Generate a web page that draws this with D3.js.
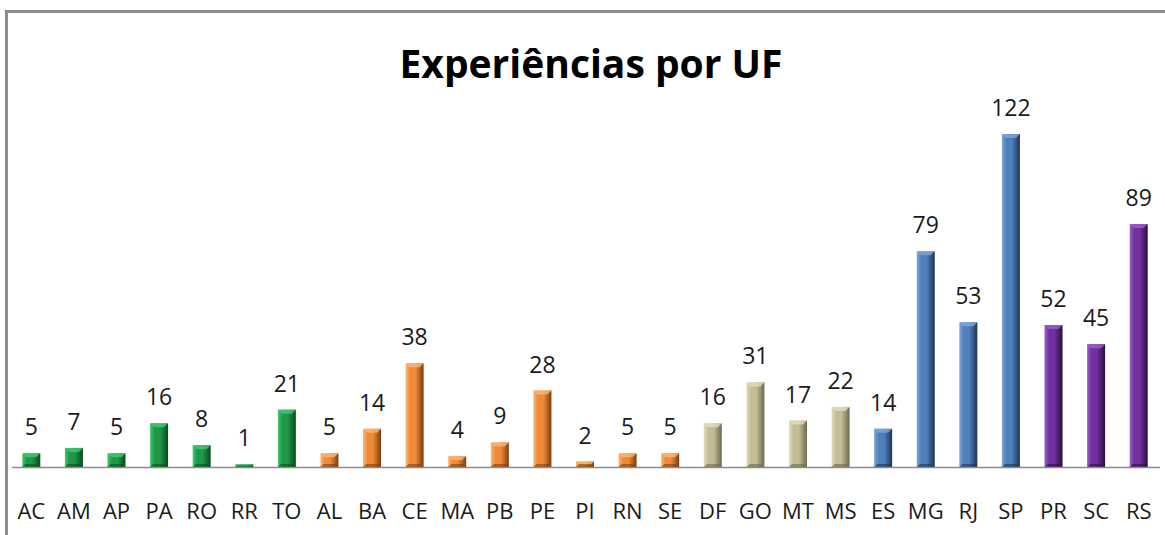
<!DOCTYPE html>
<html>
<head>
<meta charset="utf-8">
<script src="https://cdn.jsdelivr.net/npm/d3@7"></script>
<style>
  html, body { margin: 0; padding: 0; background: #fff; }
  svg { display: block; font-family: "Open Sans", sans-serif; }
</style>
</head>
<body>
<div id="chart"></div>
<script>
// data
var ufs     = ["AC","AM","AP","PA","RO","RR","TO","AL","BA","CE","MA","PB","PE","PI","RN","SE","DF","GO","MT","MS","ES","MG","RJ","SP","PR","SC","RS"];
var values  = [5,7,5,16,8,1,21,5,14,38,4,9,28,2,5,5,16,31,17,22,14,79,53,122,52,45,89];
var regions = ["N","N","N","N","N","N","N","NE","NE","NE","NE","NE","NE","NE","NE","NE","CO","CO","CO","CO","SE","SE","SE","SE","S","S","S"];

var palette = {
  N:  {light: "#45c872", mid: "#1e9846", dark: "#0a4a1e"},
  NE: {light: "#fbb775", mid: "#ef8a38", dark: "#7c3e0e"},
  CO: {light: "#e2ddbf", mid: "#c3bc96", dark: "#6c684d"},
  SE: {light: "#7ea6d6", mid: "#4f80bc", dark: "#1d3452"},
  S:  {light: "#9a60c8", mid: "#7131a0", dark: "#2a0e3e"}
};

var W = 1165, H = 535;
var svg = d3.select("#chart").append("svg")
    .attr("width", W)
    .attr("height", H);

// gradients per region
var defs = svg.append("defs");
Object.keys(palette).forEach(function(k) {
  var c = palette[k];
  var g = defs.append("linearGradient").attr("id", "g" + k)
      .attr("x1", "0").attr("x2", "1").attr("y1", "0").attr("y2", "0");
  g.append("stop").attr("offset", "0%").attr("stop-color", c.light);
  g.append("stop").attr("offset", "25%").attr("stop-color", c.mid);
  g.append("stop").attr("offset", "55%").attr("stop-color", c.mid);
  g.append("stop").attr("offset", "100%").attr("stop-color", c.dark);
});

// outer frame (only top and left visible)
svg.append("path")
    .attr("d", "M6.5," + H + " V11.5 H" + W)
    .attr("fill", "none")
    .attr("stroke", "#8c8c8c")
    .attr("stroke-width", 3);

svg.append("text")
    .attr("x", 591)
    .attr("y", 78)
    .attr("text-anchor", "middle")
    .style("font-size", "39px")
    .style("font-weight", "bold")
    .text("Experiências por UF");

var x = d3.scaleBand().domain(ufs).range([10, 1160]);
var y = d3.scaleLinear().domain([0, 122]).range([467, 134]);
var bw = 18;

var rows = ufs.map(function(u, i) { return {uf: u, v: values[i], r: regions[i]}; });

var node = svg.selectAll("g.bar")
    .data(rows)
  .enter().append("g")
    .attr("class", "bar")
    .attr("transform", function(d) { return "translate(" + (x(d.uf) + x.bandwidth() / 2 - bw / 2) + ",0)"; });

node.append("rect")
    .attr("y", function(d) { return y(d.v); })
    .attr("width", bw)
    .attr("height", function(d) { return y(0) - y(d.v); })
    .attr("fill", function(d) { return "url(#g" + d.r + ")"; });

// bevel on top and bottom
node.append("path")
    .attr("d", function(d) {
      var t = y(d.v), h = y(0) - t, b = Math.min(4, h / 2);
      return "M0," + t + " H" + bw + " L" + (bw - b) + "," + (t + b) + " H" + b + " Z";
    })
    .attr("fill", function(d) { return palette[d.r].light; })
    .attr("opacity", 0.8);
node.append("path")
    .attr("d", function(d) {
      var t = y(d.v), h = y(0) - t, b = Math.min(3, h / 2), bot = y(0);
      return "M0," + bot + " H" + bw + " L" + (bw - b) + "," + (bot - b) + " H" + b + " Z";
    })
    .attr("fill", function(d) { return palette[d.r].dark; })
    .attr("opacity", 0.6);

node.append("text")
    .attr("x", bw / 2)
    .attr("y", function(d) { return y(d.v) - 18; })
    .attr("text-anchor", "middle")
    .style("font-size", "23px")
    .style("fill", "#1a1a1a")
    .text(function(d) { return d.v; });

// category axis
var axis = svg.append("g")
    .attr("transform", "translate(0," + y(0) + ")")
    .call(d3.axisBottom(x).tickSize(0).tickPadding(36));
axis.select(".domain").attr("stroke", "#8c8c8c").attr("stroke-width", 1.5)
    .attr("d", "M12,0.5H1160");
axis.selectAll("text")
    .style("font-family", "'Open Sans', sans-serif")
    .style("font-size", "22px")
    .style("fill", "#1a1a1a");
</script>
</body>
</html>
